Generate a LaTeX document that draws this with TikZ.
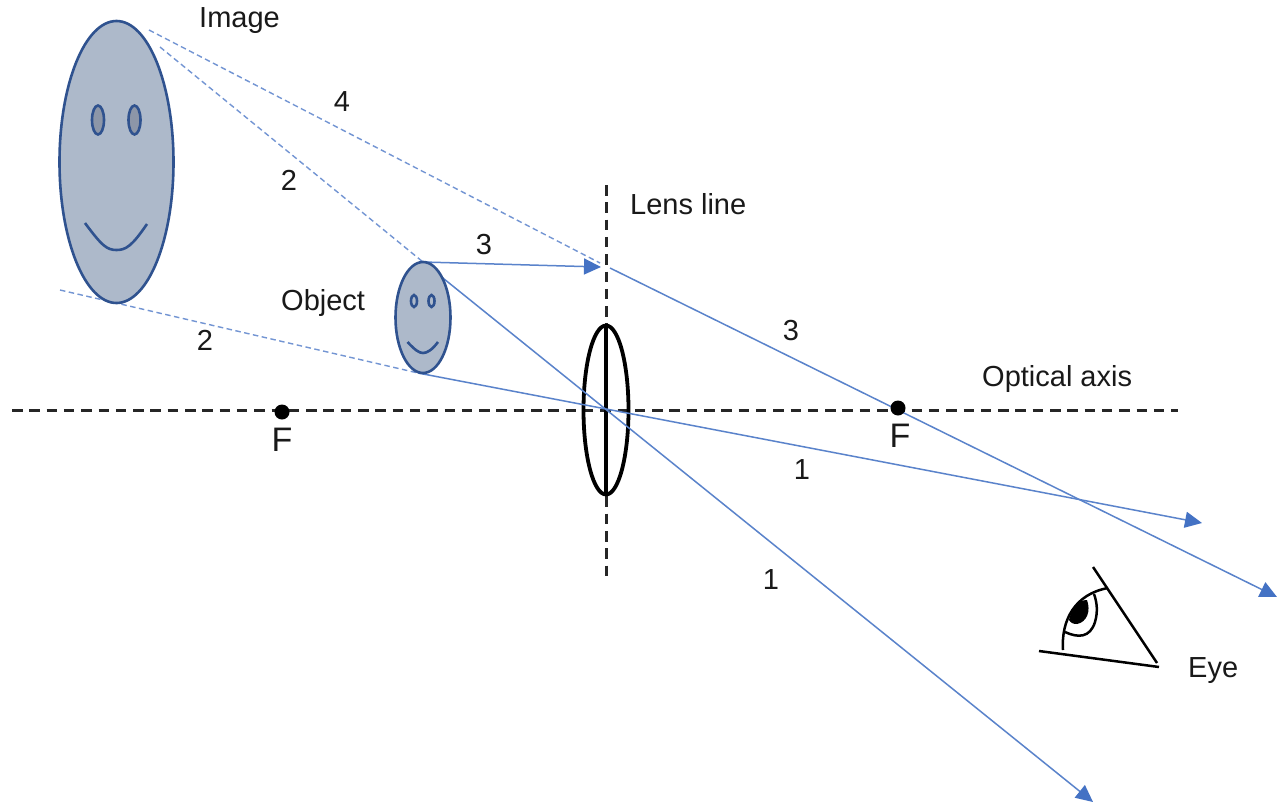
\documentclass[tikz,border=0pt]{standalone}
\usepackage{fontspec}
\setmainfont{Liberation Sans}
\usetikzlibrary{arrows.meta}
\definecolor{ray}{HTML}{4472C4}
\definecolor{edge}{HTML}{2F528F}
\definecolor{face}{HTML}{ADB9CA}
\definecolor{eyeface}{HTML}{8C96A8}
\tikzset{
  lbl/.style={inner sep=0pt,font=\fontsize{29}{29}\selectfont,text=black!90},
  fpoint/.style={inner sep=0pt,font=\fontsize{34}{34}\selectfont,text=black!90},
  rayline/.style={draw=ray!88,line width=1.5pt},
  rayvirtual/.style={draw=ray!75,line width=1.4pt,dash pattern=on 5.5pt off 3.5pt},
  rayarrow/.style={rayline,-{Triangle[length=17pt,width=16pt,color=ray]}},
  axisline/.style={draw=black!85,line width=3pt,dash pattern=on 10.5pt off 6.8pt},
  faceshape/.style={draw=edge,fill=face,line width=2.6pt},
  eyeline/.style={draw=black,line width=2.5pt},
  lensline/.style={draw=black,line width=3.8pt}
}
\begin{document}
\begin{tikzpicture}[x=1pt,y=-1pt]
\useasboundingbox (0,0) rectangle (1277,806);
\fill[white] (0,0) rectangle (1277,806);
% anchors
\coordinate (axL) at (12,410);
\coordinate (axR) at (1178,410);
\coordinate (llT) at (606,185);
\coordinate (llB) at (606,578);
\coordinate (lensC) at (606,410);
\coordinate (objTop) at (423,262);
\coordinate (objBot) at (418,373);
\coordinate (lensHit) at (601,267);
\coordinate (lensOut) at (610,268);
\coordinate (imgA) at (149,30);
\coordinate (imgB) at (160,47);
\coordinate (imgC) at (60,290);
\coordinate (endA) at (1277,597);
\coordinate (endB) at (1093,802);
\coordinate (endC) at (1202,523);
\coordinate (virtA) at (600,263);
% axes
\draw[axisline] (axL) -- (axR);
\draw[axisline] (llT) -- (llB);
% lens
\draw[lensline] (lensC) ellipse [x radius=22.5,y radius=84.5];
\draw[lensline] (606,326) -- (606,494);
% rays
\draw[rayvirtual] (imgA) -- (virtA);
\draw[rayvirtual] (imgB) -- (objTop);
\draw[rayvirtual] (imgC) -- (objBot);
\draw[rayarrow] (objTop) -- (lensHit);
\draw[rayarrow] (lensOut) -- (endA);
\draw[rayarrow] (objTop) -- (endB);
\draw[rayarrow] (objBot) -- (endC);
% image face
\draw[faceshape] (116.5,162) ellipse [x radius=57,y radius=141];
\draw[draw=edge,fill=eyeface,line width=2.6pt] (98,120) ellipse [x radius=6,y radius=14.5];
\draw[draw=edge,fill=eyeface,line width=2.6pt] (134.5,120) ellipse [x radius=6,y radius=14.5];
\draw[draw=edge,line width=2.6pt] (85,223) .. controls (102,246) and (107,250) .. (116.5,250) .. controls (126,250) and (132,246) .. (147,224);
% object face
\draw[faceshape] (423,317.5) ellipse [x radius=27.5,y radius=55.5];
\draw[draw=edge,line width=2.6pt] (414,301) ellipse [x radius=3,y radius=6];
\draw[draw=edge,line width=2.6pt] (431.5,301) ellipse [x radius=3,y radius=6];
\draw[draw=edge,line width=2.6pt] (407.5,342) .. controls (415,350) and (419,353) .. (423,353) .. controls (427,353) and (432,350) .. (438,342);
% focal points
\fill[black] (282,412) circle [radius=7.5];
\fill[black] (898,408) circle [radius=7.5];
% eye
\coordinate (eA) at (1093,567);
\coordinate (eB) at (1157,663);
\coordinate (eC) at (1039,651);
\coordinate (eD) at (1159,667);
\draw[eyeline] (eA) -- (eB);
\draw[eyeline] (eC) -- (eD);
\draw[eyeline] (1063,650) .. controls (1061,620) and (1075,594) .. (1108,588);
\draw[eyeline] (1065,632) .. controls (1078,638) and (1090,638) .. (1095,622) .. controls (1098,612) and (1097,602) .. (1094,594);
\fill[black] (1069,620) .. controls (1072,607) and (1078,600) .. (1087,600) .. controls (1091,611) and (1087,622) .. (1077,624) .. controls (1073,624) and (1071,623) .. (1069,620) -- cycle;
% labels
\node[lbl,anchor=west] (tImage) at (199,21) {Image};
\node[lbl] (t4) at (342,102) {4};
\node[lbl] (t2a) at (289,180) {2};
\node[lbl] (t3a) at (484,245) {3};
\node[lbl,anchor=west] (tLens) at (630,204) {Lens line};
\node[lbl,anchor=west] (tObject) at (281,303) {Object};
\node[lbl] (t2b) at (205,340) {2};
\node[lbl] (t3b) at (791,331) {3};
\node[lbl,anchor=west] (tAxis) at (982,379) {Optical axis};
\node[fpoint] (tF1) at (282,440) {F};
\node[fpoint] (tF2) at (900,436) {F};
\node[lbl] (t1a) at (802,470) {1};
\node[lbl] (t1b) at (771,580) {1};
\node[lbl,anchor=west] (tEye) at (1188,671) {Eye};
\end{tikzpicture}
\end{document}
